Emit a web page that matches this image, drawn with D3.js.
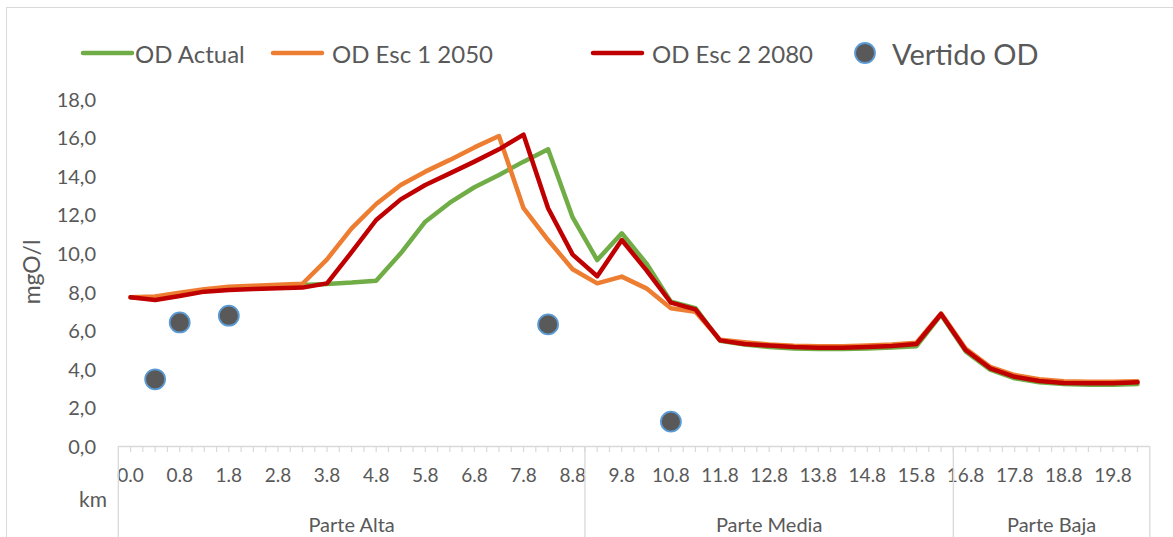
<!DOCTYPE html>
<html><head><meta charset="utf-8">
<script src="https://cdn.jsdelivr.net/npm/d3@7"></script>
<style>
html,body{margin:0;padding:0;background:#fff;}
svg{display:block;font-family:Lato,"Open Sans",sans-serif;}
</style></head>
<body>
<svg id="chart" width="1173" height="537"></svg>
<script>
// ---- data ----
const kmCategories = ["0.0","0.4","0.8","1.3","1.8","2.3","2.8","3.3","3.8","4.3","4.8","5.3","5.8","6.3","6.8","7.3","7.8","8.3","8.8","9.3","9.8","10.3","10.8","11.3","11.8","12.3","12.8","13.3","13.8","14.3","14.8","15.3","15.8","16.3","16.8","17.3","17.8","18.3","18.8","19.3","19.8","20.3"];
const groupNames = ["Parte Alta","Parte Media","Parte Baja"];
const groupSizes = [19, 15, 8];
const odActual = [7.76,7.7,7.9,8.12,8.24,8.3,8.35,8.4,8.45,8.52,8.62,10.04,11.68,12.67,13.47,14.11,14.8,15.44,11.9,9.69,11.08,9.52,7.53,7.19,5.5,5.3,5.18,5.1,5.07,5.07,5.1,5.15,5.22,6.85,4.95,4.0,3.55,3.35,3.25,3.22,3.22,3.25];
const odEsc1 = [7.76,7.8,8.0,8.17,8.31,8.36,8.41,8.46,9.73,11.34,12.6,13.59,14.28,14.89,15.54,16.13,12.38,10.73,9.21,8.48,8.83,8.22,7.19,7.01,5.55,5.42,5.31,5.24,5.22,5.22,5.25,5.3,5.4,6.92,5.1,4.15,3.72,3.5,3.4,3.37,3.37,3.4];
const odEsc2 = [7.76,7.62,7.82,8.05,8.14,8.19,8.22,8.26,8.48,10.1,11.77,12.84,13.59,14.19,14.8,15.44,16.2,12.38,9.97,8.85,10.73,9.17,7.48,7.13,5.52,5.33,5.25,5.18,5.14,5.14,5.18,5.23,5.33,6.89,5.02,4.07,3.63,3.41,3.31,3.29,3.29,3.34];
const vertidoKm = ["0.4","0.8","1.8","8.3","10.8"];
const vertidoOD = [3.5,6.45,6.8,6.35,1.3];
const yTicks = [0,2,4,6,8,10,12,14,16,18];
const seriesNames = ["OD Actual","OD Esc 1 2050","OD Esc 2 2080"];
const seriesColors = ["#70AD47","#ED7D31","#C00000"];

// ---- layout ----
const svg = d3.select("#chart");
const plotLeft = 118.3, plotRight = 1149.8, plotTop = 100, plotBottom = 446.7;
const textColor = "#595959", gridColor = "#D9D9D9";

const x = d3.scaleBand().domain(kmCategories).range([plotLeft, plotRight]).padding(0);
const bw = x.bandwidth();
const cx = k => x(k) + bw / 2;
const y = d3.scaleLinear().domain([0, 18]).range([plotBottom, plotTop]);

// chart border
svg.append("rect").attr("x", 6.5).attr("y", 7.5).attr("width", 1200).attr("height", 600)
  .attr("fill", "none").attr("stroke", gridColor).attr("stroke-width", 1);

// y axis labels
const yAxis = d3.axisLeft(y).tickValues(yTicks).tickSize(0).tickPadding(0)
  .tickFormat(d => d3.format(".1f")(d).replace(".", ","));
const yg = svg.append("g").attr("transform", "translate(96,0)").call(yAxis);
yg.select(".domain").remove();
yg.selectAll("text").attr("fill", textColor).style("font-size", "20px").style("font-family", "Lato");

svg.append("text").attr("transform", "translate(31,272) rotate(-90)")
  .attr("text-anchor", "middle").attr("dominant-baseline", "central")
  .attr("fill", textColor).style("font-size", "23px").text("mgO/l");

// x axis baseline
svg.append("line").attr("x1", plotLeft).attr("x2", plotRight).attr("y1", 446.5).attr("y2", 446.5)
  .attr("stroke", gridColor).attr("stroke-width", 1.3);

// minor ticks at band centers and boundaries
const tickPos = [];
kmCategories.forEach((k, i) => { tickPos.push(cx(k)); if (i > 0) tickPos.push(x(k)); });
svg.append("g").selectAll("line").data(tickPos).join("line")
  .attr("x1", d => d).attr("x2", d => d).attr("y1", 446.5).attr("y2", 452)
  .attr("stroke", gridColor).attr("stroke-width", 1.2);

// x labels every other category
const xAxis = d3.axisBottom(x).tickValues(kmCategories.filter((d, i) => i % 2 === 0)).tickSize(0).tickPadding(0);
const xg = svg.append("g").attr("transform", "translate(0,468)").call(xAxis);
xg.select(".domain").remove();
xg.selectAll("text").attr("fill", textColor).style("font-size", "19px").style("font-family", "Lato");

svg.append("text").attr("x", 93).attr("y", 498).attr("text-anchor", "middle").attr("dominant-baseline", "central")
  .attr("fill", textColor).style("font-size", "21px").text("km");

// group dividers and labels
let start = 0;
const bounds = [x(kmCategories[0])];
groupNames.forEach((g, gi) => {
  const end = start + groupSizes[gi];
  const x0 = x(kmCategories[start]);
  const x1 = end < kmCategories.length ? x(kmCategories[end]) : plotRight;
  bounds.push(x1);
  svg.append("text").attr("x", (x0 + x1) / 2).attr("y", 524).attr("text-anchor", "middle")
    .attr("dominant-baseline", "central").attr("fill", textColor).style("font-size", "20px").text(g);
  start = end;
});
svg.append("g").selectAll("line").data(bounds).join("line")
  .attr("x1", d => d).attr("x2", d => d).attr("y1", 446).attr("y2", 540)
  .attr("stroke", gridColor).attr("stroke-width", 1.3);

// lines
const line = d3.line().x((d, i) => cx(kmCategories[i])).y(d => y(d));
[odActual, odEsc1, odEsc2].forEach((s, si) => {
  svg.append("path").datum(s).attr("d", line).attr("fill", "none")
    .attr("stroke", seriesColors[si]).attr("stroke-width", 4.5)
    .attr("stroke-linejoin", "round").attr("stroke-linecap", "round");
});

// vertido points
svg.append("g").selectAll("circle").data(vertidoOD).join("circle")
  .attr("cx", (d, i) => cx(vertidoKm[i])).attr("cy", d => y(d)).attr("r", 10)
  .attr("fill", "#595959").attr("stroke", "#5B9BD5").attr("stroke-width", 1.8);

// legend
const legY = 53;
const legItems = [
  {lx: 83, tx: 135},
  {lx: 273, tx: 332},
  {lx: 593, tx: 652}
];
legItems.forEach((L, i) => {
  svg.append("line").attr("x1", L.lx).attr("x2", L.lx + 49).attr("y1", legY).attr("y2", legY)
    .attr("stroke", seriesColors[i]).attr("stroke-width", 4.5).attr("stroke-linecap", "round");
  svg.append("text").attr("x", L.tx).attr("y", legY).attr("dominant-baseline", "central")
    .attr("fill", textColor).style("font-size", "24px").text(seriesNames[i]);
});
svg.append("circle").attr("cx", 865).attr("cy", legY).attr("r", 10)
  .attr("fill", "#595959").attr("stroke", "#5B9BD5").attr("stroke-width", 1.8);
svg.append("text").attr("x", 892).attr("y", legY).attr("dominant-baseline", "central")
  .attr("fill", textColor).style("font-size", "29px").text("Vertido OD");
</script>
</body></html>
